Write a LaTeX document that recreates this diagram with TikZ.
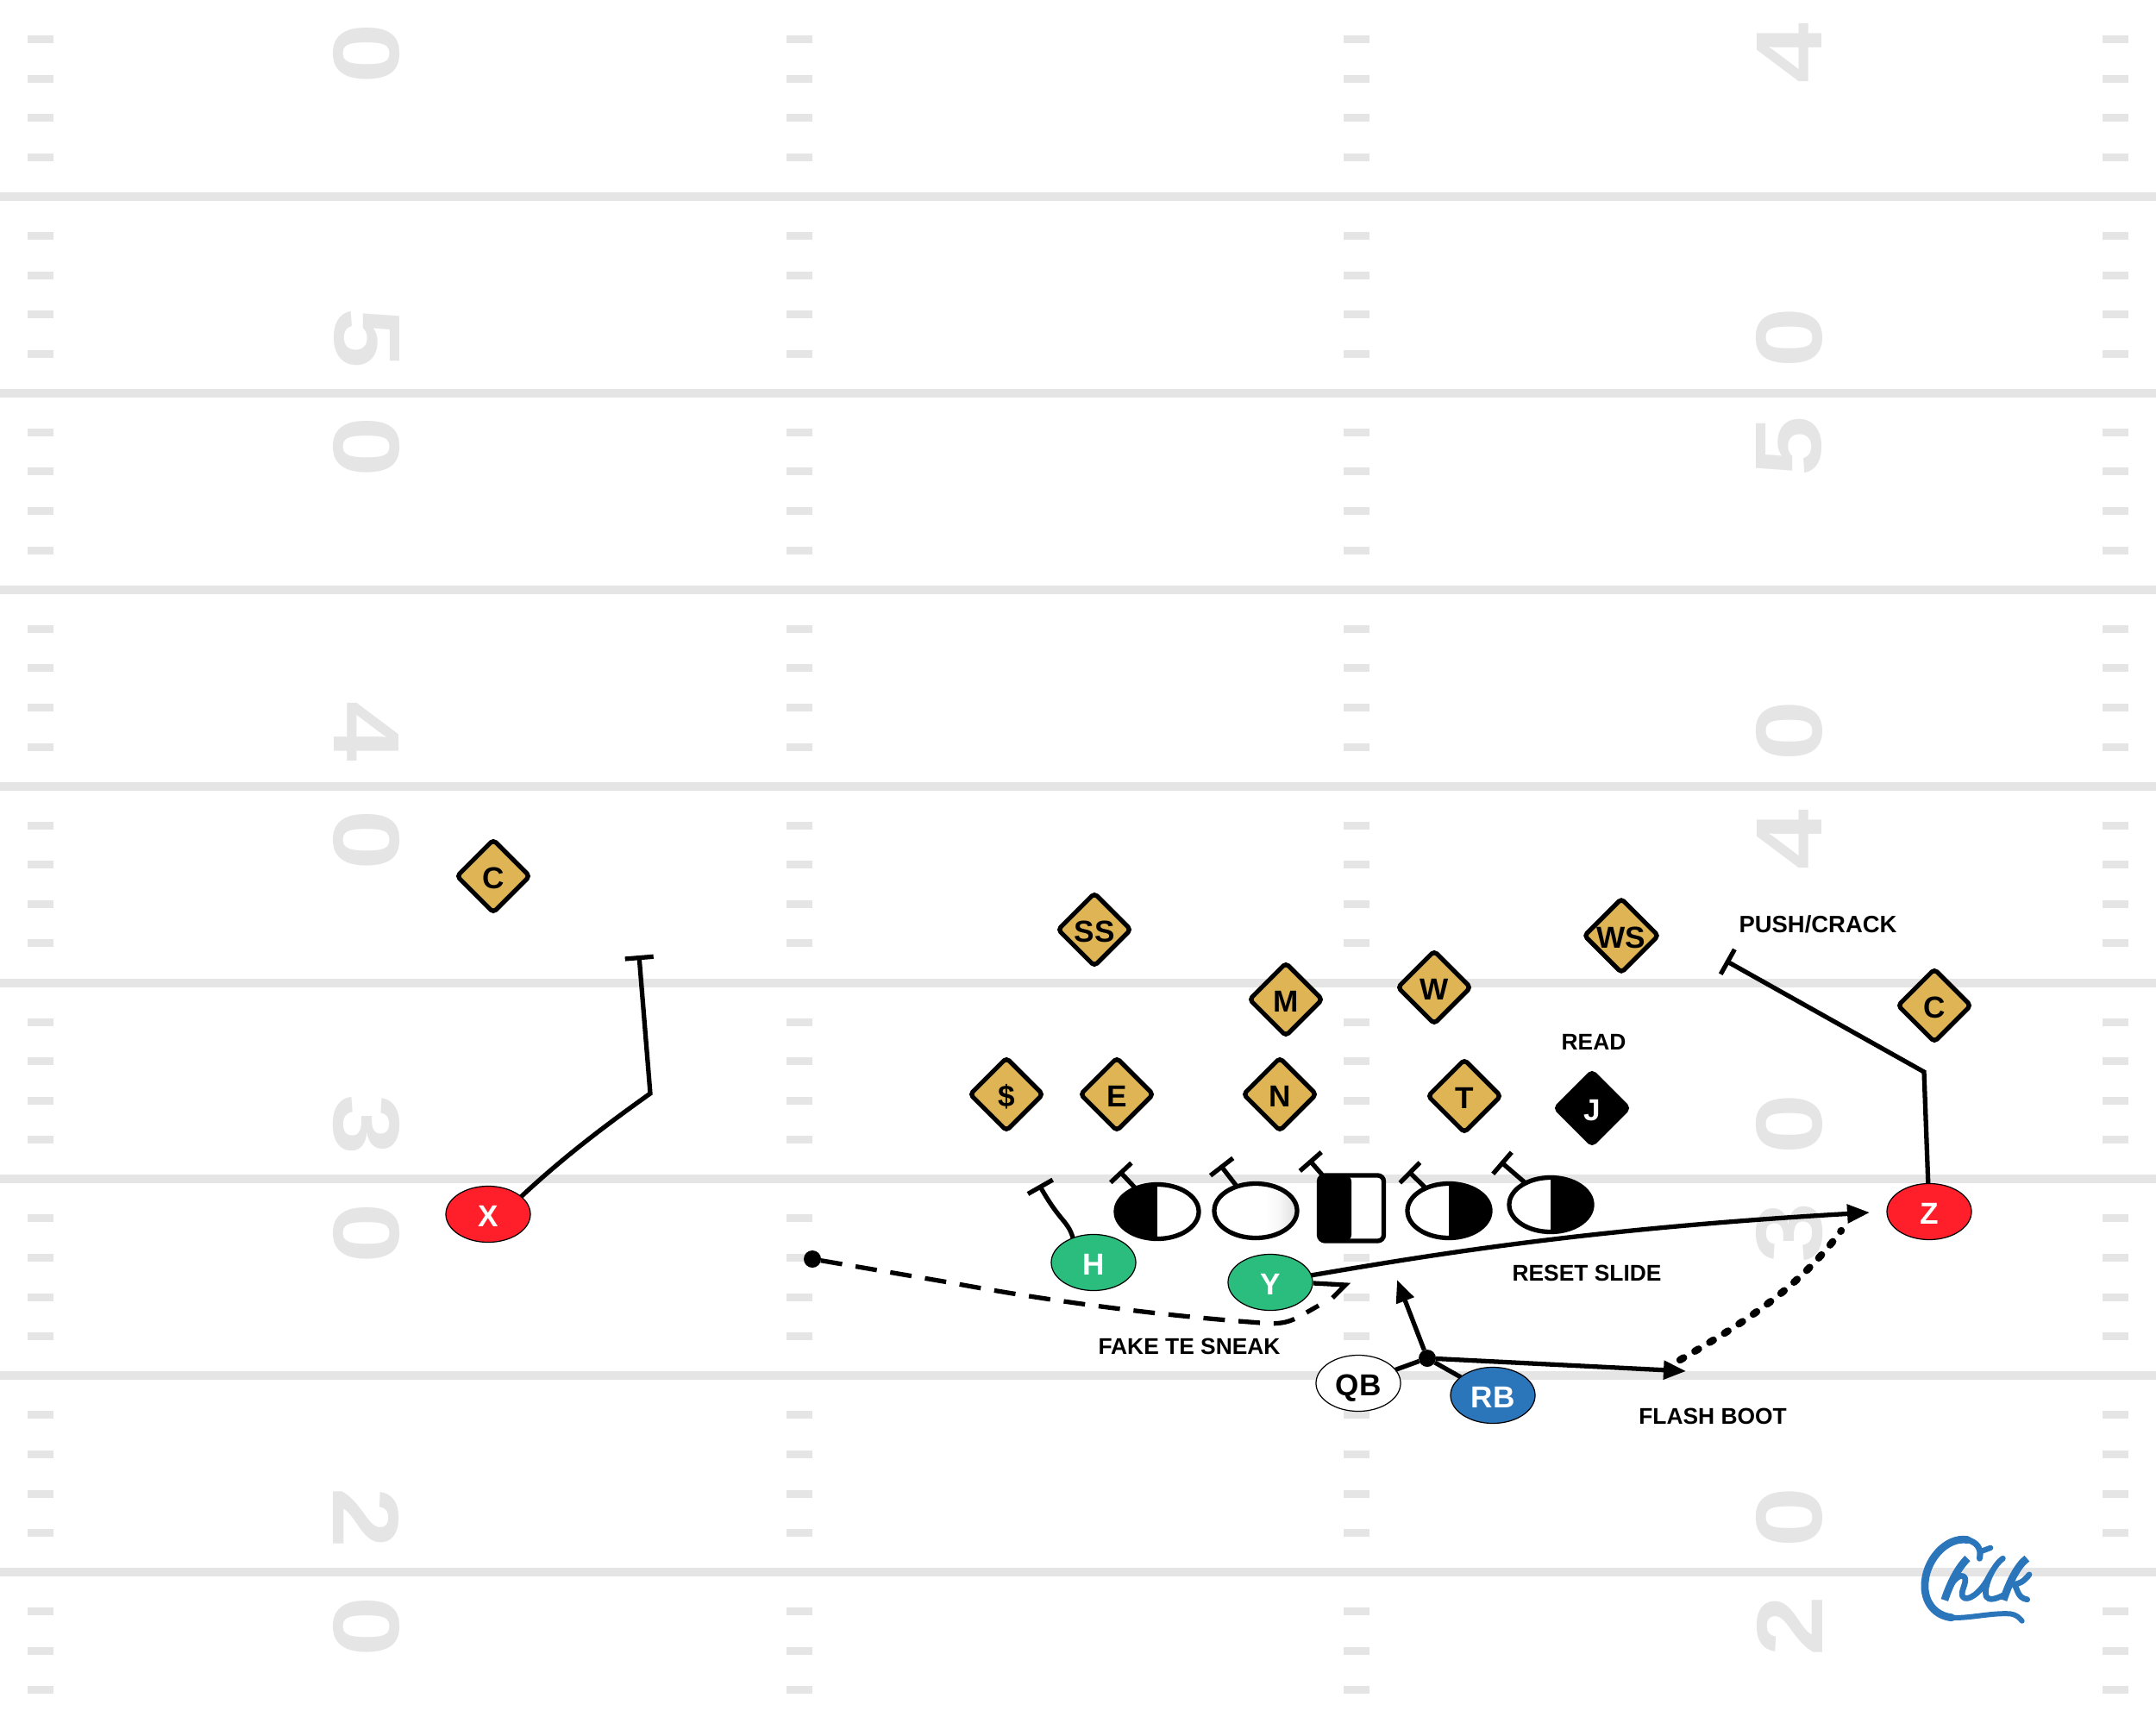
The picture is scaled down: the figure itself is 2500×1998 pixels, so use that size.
\documentclass[tikz,border=0pt]{standalone}
\usepackage{fontspec}
\setmainfont{Liberation Sans}
\usetikzlibrary{arrows.meta,shapes.geometric}
\definecolor{fieldgray}{HTML}{E5E5E5}
\definecolor{gold}{HTML}{DFB455}
\definecolor{redp}{HTML}{FF1F2A}
\definecolor{greenp}{HTML}{2BBD7E}
\definecolor{bluep}{HTML}{2B75BB}
\pgfdeclarehorizontalshading{edgegray}{100bp}{color(0bp)=(white); color(56bp)=(white); color(64bp)=(black!3); color(75bp)=(black!13); color(100bp)=(black!13)}
\tikzset{
  player/.style={ellipse,draw=black,line width=0.35pt,minimum width=98*0.2845pt,minimum height=65*0.2845pt,inner sep=0pt,outer sep=0pt,text height=8.2pt,text depth=0pt,font=\fontsize{10pt}{12pt}\selectfont\bfseries},
  lineman/.style={ellipse,draw=black,line width=1.5pt,minimum width=96*0.2845pt,minimum height=63*0.2845pt,inner sep=0pt,outer sep=0pt},
  halfleft/.style={path picture={\fill[black] (path picture bounding box.south west) rectangle (path picture bounding box.north);}},
  halfright/.style={path picture={\fill[black] (path picture bounding box.south east) rectangle (path picture bounding box.north);}},
  defender/.style={diamond,aspect=1,draw=black,fill=gold,line width=1.5pt,rounded corners=1.2pt,minimum size=84*0.2845pt,inner sep=0pt,outer sep=0pt,text height=8.2pt,text depth=0pt,font=\fontsize{10pt}{12pt}\selectfont\bfseries},
  note/.style={inner sep=0pt,font=\fontsize{7.5pt}{9pt}\selectfont\bfseries},
  route/.style={line width=1.5pt,line join=miter},
  block/.style={route,-{Bar[width=9.4pt]}},
  pass/.style={route,-{Triangle[length=7.4pt,width=6pt]}},
  dotnode/.style={circle,fill=black,inner sep=0pt,minimum size=5.6pt,outer sep=0pt},
  yardnum/.style={transform shape,text=fieldgray,inner sep=0pt,font=\fontsize{31pt}{33pt}\selectfont\bfseries},
  logo/.style={draw=bluep,line cap=round,line join=round},
}
\begin{document}
\begin{tikzpicture}[x=0.01cm,y=-0.01cm]
\useasboundingbox (0,0) rectangle (2500,1998);
\fill[white] (0,0) rectangle (2500,1998);
% yard lines
\foreach \k in {5,10,...,40}{
  \fill[fieldgray] (0,45.58*\k-5) rectangle (2500,45.58*\k+5);
}
% hashes
\foreach \k in {1,...,43}{
  \pgfmathtruncatemacro{\m}{mod(\k,5)}
  \ifnum\m=0\else
    \foreach \x in {32,912,1558,2438}{
      \fill[fieldgray] (\x,45.58*\k-4.5) rectangle (\x+30,45.58*\k+4.5);
    }
  \fi
}
% yard numbers
\foreach \d/\y [count=\i] in {0/62,5/392,0/518,4/848,0/974,3/1304,0/1430,2/1760,0/1886}{
  \node[yardnum,rotate=-90,xscale=1.15] (numL\i) at (425,\y) {\d};
}
\foreach \d/\y [count=\i] in {4/62,0/392,5/518,0/848,4/974,0/1304,3/1430,0/1760,2/1886}{
  \node[yardnum,rotate=90,xscale=1.15] (numR\i) at (2075,\y) {\d};
}
% offense
\node[player,fill=redp,text=white] (X) at (566,1408) {X};
\node[player,fill=redp,text=white] (Z) at (2237,1405) {Z};
\node[player,fill=greenp,text=white] (H) at (1268,1464) {H};
\node[player,fill=greenp,text=white] (Y) at (1473,1487) {Y};
\node[player,fill=white] (QB) at (1575,1604) {QB};
\node[player,fill=bluep,text=white] (RB) at (1731,1618) {RB};
\node[lineman,fill=white,halfleft] (L1) at (1342,1405) {};
\node[lineman,shading=edgegray] (L2) at (1456,1404) {};
\node[draw=black,fill=white,line width=1.5pt,rounded corners=2pt,minimum width=75*0.2845pt,minimum height=76*0.2845pt,inner sep=0pt,outer sep=0pt,halfleft] (CC) at (1567,1401) {};
\node[lineman,fill=white,halfright] (L4) at (1680,1404) {};
\node[lineman,fill=white,halfright] (L5) at (1798,1397) {};
% defense
\node[defender] (CL) at (572,1016) {C};
\node[defender] (SS) at (1269,1078) {SS};
\node[defender] (M) at (1491,1159) {M};
\node[defender] (W) at (1663,1145) {W};
\node[defender] (WS) at (1880,1085) {WS};
\node[defender] (CR) at (2243,1166) {C};
\node[defender] (D) at (1167,1269) {\$};
\node[defender] (E) at (1295,1269) {E};
\node[defender] (N) at (1484,1269) {N};
\node[defender] (T) at (1698,1271) {T};
\node[defender,fill=black,text=white] (J) at (1846,1285) {J};
% labels
\node[note,font=\fontsize{7.8pt}{9pt}\selectfont\bfseries] (lbPush) at (2108,1072) {PUSH/CRACK};
\node[note] (lbRead) at (1848,1208) {READ};
\node[note] (lbReset) at (1840,1476) {RESET SLIDE};
\node[note] (lbFake) at (1379,1561) {FAKE TE SNEAK};
\node[note] (lbFlash) at (1986,1642) {FLASH BOOT};
% free ends
\coordinate (tX) at (741,1108);
\coordinate (bX) at (754,1268);
\coordinate (tZ) at (2001,1114);
\coordinate (bZ) at (2231,1243);
\coordinate (tH) at (1205,1374);
\coordinate (t1) at (1298,1358);
\coordinate (t2) at (1415,1351);
\coordinate (t3) at (1518,1345);
\coordinate (t4) at (1633,1358);
\coordinate (t5) at (1740,1347);
% routes
\draw[block] (X.28) .. controls (650,1345) and (695,1310) .. (bX) -- (tX);
\draw[block] (Z) -- (bZ) -- (tZ);
\draw[block] (H.130) .. controls (1238,1415) and (1230,1418) .. (tH);
\draw[block] (L1) -- (t1);
\draw[block] (L2) -- (t2);
\draw[block] (CC) -- (t3);
\draw[block] (L4) -- (t4);
\draw[block] (L5) -- (t5);
\coordinate (resetEnd) at (2168,1406);
\draw[pass] (Y) .. controls (1660,1455) and (1840,1425) .. (resetEnd);
% QB mesh
\node[dotnode,minimum size=20*0.2845pt] (mesh) at (1655,1575) {};
\coordinate (upEnd) at (1620,1484);
\coordinate (flashEnd) at (1955,1590);
\draw[route] (QB) -- (mesh);
\draw[route] (RB) -- (mesh);
\draw[pass] (mesh) -- (upEnd);
\draw[pass] (mesh) -- (flashEnd);
% dotted continuation
\coordinate (dotStart) at (1948,1577);
\coordinate (dotEnd) at (2135,1427);
\draw[line width=2.4pt,line cap=round,dash pattern=on 1.4pt off 4.3pt] (dotStart) .. controls (2020,1535) and (2085,1495) .. (dotEnd);
% fake route
\node[dotnode,minimum size=20*0.2845pt] (fakeDot) at (942,1460) {};
\coordinate (fakeA) at (1529,1514);
\coordinate (fakeB) at (1560,1490);
\coordinate (fakeC) at (1523,1488);
\coordinate (fakeD) at (1545,1505);
\draw[route,dash pattern=on 7.1pt off 4.5pt] (fakeDot) -- (1100,1487) .. controls (1250,1515) and (1380,1528) .. (1462,1534) .. controls (1495,1537) and (1500,1530) .. (fakeA);
\draw[route] (fakeD) -- (fakeB) -- (fakeC);
% logo
\begin{scope}[shift={(2150,1720)},x=0.00333cm,y=-0.00333cm]
\draw[logo,line width=2pt] (437,262) .. controls (445,225) and (425,205) .. (395,197);
\draw[logo,line width=1.8pt] (440,238) -- (475,225);
\draw[logo,line width=2.5pt] (395,197) .. controls (320,185) and (245,270) .. (246,360) .. controls (247,420) and (285,462) .. (340,468);
\draw[logo,line width=1.7pt] (340,468) .. controls (400,472) and (480,450) .. (545,455) .. controls (565,458) and (575,468) .. (585,480);
\draw[logo,line width=2.5pt,line cap=butt] (395,262) .. controls (365,290) and (335,345) .. (315,407);
\draw[logo,line width=1.9pt] (330,368) .. controls (345,335) and (372,312) .. (385,328) .. controls (395,345) and (368,378) .. (378,395) .. controls (392,415) and (440,385) .. (470,325) .. controls (490,290) and (505,270) .. (518,262) .. controls (480,290) and (450,365) .. (460,395) .. controls (470,412) and (500,400) .. (520,390);
\draw[logo,line width=2.5pt,line cap=butt] (602,262) .. controls (570,285) and (540,345) .. (520,407);
\draw[logo,line width=1.9pt] (610,318) .. controls (590,345) and (570,352) .. (555,352) .. controls (570,360) and (565,400) .. (603,405);
\end{scope}
\end{tikzpicture}
\end{document}
